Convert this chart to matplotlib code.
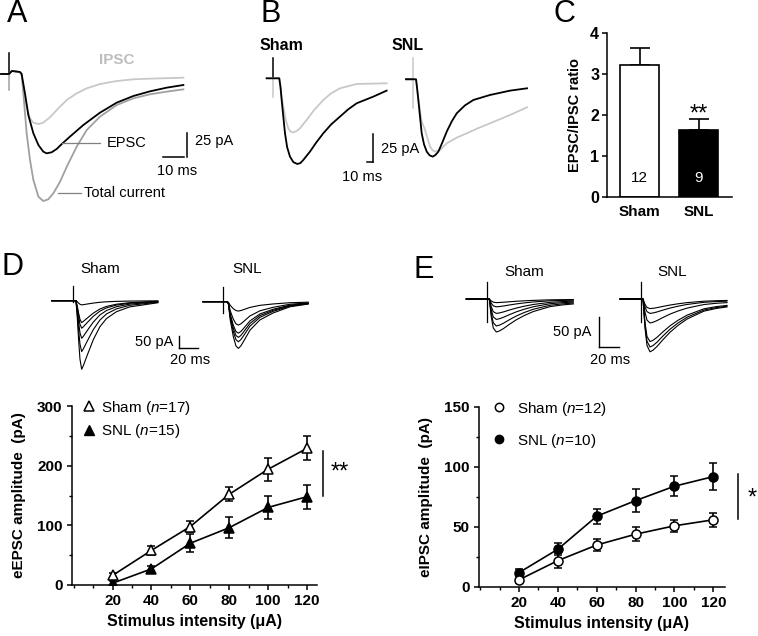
import numpy as np
import matplotlib
matplotlib.use("Agg")
import matplotlib.pyplot as plt
from matplotlib.lines import Line2D
from matplotlib.ticker import MultipleLocator

W, H = 758, 636

plt.rcParams["font.family"] = ["Liberation Sans", "DejaVu Sans"]
plt.rcParams["mathtext.fontset"] = "custom"
plt.rcParams["mathtext.rm"] = "Liberation Sans"
plt.rcParams["mathtext.it"] = "Liberation Sans:italic"
plt.rcParams["mathtext.bf"] = "Liberation Sans:bold"

# ---- A: example traces (ms, pA) ----
a_ipsc_t = [-3.8, 0, 1.4, 5.2, 6.0, 7.1, 8.4, 10.0, 11.6, 14.0, 16.3, 19.5, 23.5, 27.5, 32.2,
            37.0, 43.3, 51.3, 59.2, 67.1, 83.0]
a_ipsc_i = [0, 0, 3.2, 2.1, 0, -16.9, -34.5, -46.8, -51.3, -52.8, -51.3, -45.7, -36.2, -27.4, -20.4,
            -15.1, -10.6, -7.4, -5.6, -4.9, -3.9]
a_epsc_t = [-3.8, 0, 1.4, 5.2, 6.0, 7.6, 9.2, 11.6, 14.0, 16.3, 17.9, 20.3, 22.7, 25.1, 29.0,
            35.4, 43.3, 51.3, 59.2, 67.1, 75.1, 83.0]
a_epsc_i = [0, 0, 3.2, 2.1, 0, -20.4, -43.3, -62.6, -74.9, -81.9, -83.7, -82.6, -79.1, -73.9, -66.1,
            -53.8, -40.8, -30.2, -23.2, -18.3, -14.4, -11.6]
a_total_t = [-3.8, 0, 1.4, 5.2, 6.0, 7.1, 8.4, 10.0, 11.6, 14.0, 16.3, 18.7, 21.1, 24.3, 27.5,
             32.2, 37.0, 43.3, 51.3, 59.2, 67.1, 75.1, 83.0]
a_total_i = [0, 0, 3.2, 2.1, 0, -27.4, -62.6, -90.7, -111.8, -129.4, -134.0, -132.2, -125.9, -113.6, -97.8,
             -76.7, -59.1, -45.0, -32.7, -25.7, -21.4, -18.6, -16.2]

# ---- B: sham / SNL traces (ms, pA) ----
b_sham_ipsc_t = [-10.6, 0, 9.5, 12.5, 15.9, 20, 23.9, 27.5, 31.8, 37, 42.4, 53, 65, 79.5, 92, 106, 132.5, 180.2]
b_sham_ipsc_i = [0, 0, 0, -14, -25.5, -38, -45, -48, -48.6, -47.5, -45, -37.5, -28.5, -19.5, -13.5, -9, -5.1, -4.5]
b_sham_epsc_t = [-10.6, 0, 9.5, 11.5, 13.3, 16, 18.6, 22, 26.5, 32, 38.2, 43, 47.7, 58.3, 68, 79.5, 92,
                 106, 119, 132.5, 159, 180.2]
b_sham_epsc_i = [0, 0, 0, -8, -19.5, -35, -49.5, -62, -70.5, -75.5, -77.1, -76.3, -73.5, -66, -58, -49.5, -41.5,
                 -34.5, -28, -22.5, -16.5, -11.1]
b_snl_epsc_t = [-10.6, 0, 5.3, 7, 9.0, 11.5, 14.3, 18, 22.3, 27, 31.8, 36, 40.8, 47, 54.1, 62, 70,
                83, 96.5, 123, 154.8, 181.8]
b_snl_epsc_i = [0, 0, 0, -8, -18.6, -33, -48.6, -58.5, -65.1, -68.5, -69.6, -68.2, -65.1, -57, -47.1, -38, -30.6,
                -23.5, -18.6, -14.1, -10.2, -8.1]
b_snl_ipsc_t = [-10.6, 0, 5.3, 9.0, 14.3, 19.6, 23.5, 27.6, 31.5, 35.5, 43.5, 54.1, 70, 85.9, 104, 123, 154.8, 181.8]
b_snl_ipsc_i = [0, 0, 0, -18.6, -38.1, -45.6, -53, -60.6, -63.8, -65.1, -63.6, -57.6, -52.5, -48.6, -44, -39.6,
                -32.1, -25.2]

# ---- C: EPSC/IPSC ratio ----
groups = ["Sham", "SNL"]
ratio = [3.21, 1.63]
ratio_err = [0.41, 0.26]
ratio_n = ["12", "9"]

# ---- D / E: example trace families ----
d_sham_t = [-22.7, 0, 2.8, 4.2, 5.5, 7, 8.8, 10.5, 14, 21, 28, 35, 45.5, 59.5, 89]
d_sham_shape = [0, 0, 0, 0.25, 0.55, 0.85, 1.0, 0.95, 0.82, 0.57, 0.38, 0.26, 0.16, 0.09, 0.03]
d_sham_amps = [17, 89, 112, 153, 207, 279]
d_snl_t = [-20.7, 0, 4.5, 6, 8, 11.2, 14, 16.5, 19, 21.7, 28.7, 39.2, 53.2, 70.7, 90]
d_snl_shape = [0, 0, 0, 0.05, 0.4, 0.75, 0.95, 1.0, 0.95, 0.86, 0.61, 0.39, 0.24, 0.11, 0.05]
d_snl_amps = [38, 95, 128, 145, 163, 190]
e_t = [-21, 0, 2, 4, 6, 9, 12, 16, 22, 29, 37, 46, 55, 63, 75, 86]
e_shape = [0, 0, 0, 0.55, 0.88, 1.0, 0.97, 0.9, 0.77, 0.63, 0.5, 0.38, 0.3, 0.23, 0.18, 0.15]
e_sham_amps = [6, 13, 24, 34, 45, 55]
e_snl_amps = [16, 24, 40, 71, 80, 88]

# ---- D / E: input-output curves ----
stim = [20, 40, 60, 80, 100, 120]
epsc_sham = [16, 58, 98, 152, 194, 229]
epsc_sham_err = [4, 8, 9, 12, 19, 20]
epsc_snl = [3, 27, 70, 96, 130, 148]
epsc_snl_err = [4, 5, 15, 18, 20, 20]
ipsc_sham = [6, 22, 35, 44, 51, 56]
ipsc_sham_err = [3, 6.5, 4.6, 5.8, 5, 5.8]
ipsc_snl = [12, 31.5, 59, 72, 84, 92]
ipsc_snl_err = [3, 5, 6.4, 9.9, 8.3, 11]

fig = plt.figure(figsize=(W / 100, H / 100), dpi=100)


def px_axes(left, top, right, bottom):
    return fig.add_axes([left / W, 1 - bottom / H, (right - left) / W, (bottom - top) / H])


def trace_axes(left, top, right, bottom, t0, base, ms_px, pa_px):
    ax = px_axes(left, top, right, bottom)
    ax.set_xlim((left - t0) * ms_px, (right - t0) * ms_px)
    ax.set_ylim(-(bottom - base) * pa_px, -(top - base) * pa_px)
    ax.axis("off")
    return ax


def ftext(x, y, s, **kw):
    fig.text(x / W, 1 - y / H, s, **kw)


LIGHT = "#c8c8c8"
MID = "#a0a0a0"

# panel letters
for x, y, s in [(16.7, 14.5, "A"), (270.5, 13.5, "B"), (564, 13.5, "C"), (13, 267, "D"), (424, 270, "E")]:
    ftext(x, y, s, fontsize=22, ha="center", va="center")

# ---------------- A ----------------
ax = trace_axes(0, 40, 250, 215, 9, 74, 0.476, 1.055)
ax.plot([0, 0], [22, 0], color="black", lw=1.1)
ax.plot([0, 0], [0, -17], color=MID, lw=1.1)
ax.plot(a_ipsc_t, a_ipsc_i, color=LIGHT, lw=1.3)
ax.plot(a_total_t, a_total_i, color=MID, lw=1.3)
ax.plot(a_epsc_t, a_epsc_i, color="black", lw=1.3)
ax.text(51.4, 14.8, "IPSC", color="#bdbdbd", fontsize=11, fontweight="bold", ha="center", va="center")
ax.plot([25.2, 43.3], [-72.8, -72.8], color="#808080", lw=0.9)
ax.text(46.6, -72.8, "EPSC", fontsize=10.5, ha="left", va="center")
ax.plot([23.3, 34.3], [-125.5, -125.5], color="#808080", lw=0.9)
ax.text(35.7, -125.5, "Total current", fontsize=10.5, ha="left", va="center")
ax.plot([73.4, 83.4], [-87.2, -87.2], color="black", lw=1.1)
ax.plot([84.9, 84.9], [-62.2, -87.2], color="black", lw=1.1)
ax.text(88.5, -70.7, "25 pA", fontsize=10.5, ha="left", va="center")
ax.text(80, -102, "10 ms", fontsize=10.5, ha="center", va="center")

# ---------------- B ----------------
ftext(281, 45, "Sham", fontsize=11.5, fontweight="bold", ha="center", va="center")
ftext(407.7, 45, "SNL", fontsize=11.5, fontweight="bold", ha="center", va="center")
ax = trace_axes(255, 30, 400, 200, 273.3, 78.3, 1.59, 0.9)
ax.plot([0, 0], [18.3, 0], color="black", lw=1.1)
ax.plot([0, 0], [0, -16.6], color=LIGHT, lw=1.1)
ax.plot(b_sham_ipsc_t, b_sham_ipsc_i, color=LIGHT, lw=1.3)
ax.plot(b_sham_epsc_t, b_sham_epsc_i, color="black", lw=1.3)
ax.plot([148.5, 158], [-75.1, -75.1], color="black", lw=1.1)
ax.plot([158, 158], [-50.1, -75.1], color="black", lw=1.1)
ax.text(171.2, -63.6, "25 pA", fontsize=10.5, ha="left", va="center")
ax.text(141, -88.8, "10 ms", fontsize=10.5, ha="center", va="center")
ax = trace_axes(395, 30, 540, 200, 412.7, 79.3, 1.59, 0.9)
ax.plot([0, 0], [18.9, -26.1], color=LIGHT, lw=1.1)
ax.plot([-10.6, 0], [0, 0], color="black", lw=1.1)
ax.plot(b_snl_ipsc_t, b_snl_ipsc_i, color=LIGHT, lw=1.3)
ax.plot(b_snl_epsc_t, b_snl_epsc_i, color="black", lw=1.3)

# ---------------- C ----------------
ax = px_axes(607, 32.7, 731.7, 196.7)
ax.bar([0, 1], ratio, width=0.666, color=["white", "black"], edgecolor="black", lw=1.2, zorder=2)
ax.errorbar([0, 1], ratio, yerr=[[0, 0], ratio_err], fmt="none", ecolor="black",
            elinewidth=1.2, capsize=7, capthick=1.2, zorder=1)
ax.text(0, 0.456, ratio_n[0], ha="center", va="center", fontsize=11, color="black")
ax.text(1, 0.456, ratio_n[1], ha="center", va="center", fontsize=11, color="white")
ax.text(1, ratio[1] + ratio_err[1] + 0.12, "**", ha="center", va="center", fontsize=17)
ax.set_xlim(-0.554, 1.56)
ax.set_ylim(0, 4)
ax.set_yticks([0, 1, 2, 3, 4])
ax.set_xticks([0, 1])
ax.set_xticklabels(groups, fontweight="bold", fontsize=11)
ax.tick_params(axis="x", length=0, pad=6)
ax.tick_params(axis="y", length=3.6, width=1.1, pad=2, labelsize=11.5)
for lab in ax.get_yticklabels():
    lab.set_fontweight("bold")
ax.spines[["top", "right"]].set_visible(False)
ax.spines[["left", "bottom"]].set_linewidth(1.1)
ax.set_ylabel("EPSC/IPSC ratio", fontweight="bold", fontsize=10.5, labelpad=6)

# ---------------- D traces ----------------
ftext(100.7, 269, "Sham", fontsize=11, ha="center", va="center")
ftext(247, 269, "SNL", fontsize=11, ha="center", va="center")
ax = trace_axes(40, 280, 330, 380, 73.3, 300.7, 1.053, 4.07)
ax.plot([0, 0], [59, -5], color="black", lw=0.9)
for amp in d_sham_amps:
    ax.plot(d_sham_t, -amp * np.array(d_sham_shape), color="black", lw=0.8)
ax.plot([111.6, 111.6], [-143.7, -193.7], color="black", lw=1.0)
ax.plot([111.6, 131.6], [-193.7, -193.7], color="black", lw=1.0)
ax.text(105.3, -166.9, "50 pA", fontsize=10.5, ha="right", va="center")
ax.text(122.9, -241, "20 ms", fontsize=10.5, ha="center", va="center")
ax = trace_axes(195, 280, 330, 380, 222.7, 301.7, 1.053, 4.07)
ax.plot([0, 0], [61, -46], color="black", lw=0.9)
for amp in d_snl_amps:
    ax.plot(d_snl_t, -amp * np.array(d_snl_shape), color="black", lw=0.8)

# ---------------- E traces ----------------
ftext(523.8, 271.7, "Sham", fontsize=11, ha="center", va="center")
ftext(672, 271.7, "SNL", fontsize=11, ha="center", va="center")
ax = trace_axes(450, 270, 640, 380, 487.3, 299, 1.0, 1.667)
ax.plot([0, 0], [28.8, -38.2], color="black", lw=0.9)
for amp in e_sham_amps:
    ax.plot(e_t, -amp * np.array(e_shape), color="black", lw=0.8)
ax.plot([112, 112], [-29.5, -79.5], color="black", lw=1.0)
ax.plot([112, 132], [-79.5, -79.5], color="black", lw=1.0)
ax.text(104.4, -54.5, "50 pA", fontsize=10.5, ha="right", va="center")
ax.text(122.7, -101.7, "20 ms", fontsize=10.5, ha="center", va="center")
ax = trace_axes(610, 270, 740, 380, 641, 299, 1.0, 1.667)
ax.plot([0, 0], [28.8, -38.2], color="black", lw=0.9)
for amp in e_snl_amps:
    ax.plot(e_t, -amp * np.array(e_shape), color="black", lw=0.8)


# ---------------- D / E curves ----------------
def io_axes(ax, ymax, ymajor, ylabel):
    ax.set_ylim(0, ymax)
    ax.set_xticks(stim)
    ax.xaxis.set_minor_locator(MultipleLocator(10))
    ax.yaxis.set_major_locator(MultipleLocator(ymajor))
    ax.yaxis.set_minor_locator(MultipleLocator(ymajor / 2))
    ax.tick_params(which="major", length=3.6, width=1.1, labelsize=11, pad=3)
    ax.tick_params(which="minor", length=2.2, width=1.0)
    for lab in ax.get_xticklabels() + ax.get_yticklabels():
        lab.set_fontweight("bold")
    ax.spines[["top", "right"]].set_visible(False)
    ax.spines[["left", "bottom"]].set_linewidth(1.1)
    ax.set_ylabel(ylabel, fontweight="bold", fontsize=11, labelpad=8)
    ax.set_xlabel("Stimulus intensity (\u03bcA)", fontweight="bold", fontsize=11.5, labelpad=4)


eb = dict(color="black", lw=1.2, elinewidth=1.2, capsize=3.2, capthick=1.2, ms=6.5, mec="black", mew=1.1)

ax = px_axes(71.7, 406, 316.7, 585)
ax.set_xlim(-1, 125)
ax.errorbar(stim, epsc_snl, yerr=epsc_snl_err, marker="^", mfc="black", zorder=2, **eb)
ax.errorbar(stim, epsc_sham, yerr=epsc_sham_err, marker="^", mfc="white", zorder=3, **eb)
io_axes(ax, 300, 100, "eEPSC amplitude  (pA)")
ax.plot([128.4, 128.4], [149, 225], color="black", lw=1.1, clip_on=False)
ax.text(137, 188, "**", fontsize=17, ha="center", va="center")
handles = [Line2D([], [], ls="none", marker="^", ms=6.5, mfc="white", mec="black", mew=1.1),
           Line2D([], [], ls="none", marker="^", ms=6.5, mfc="black", mec="black")]
ax.legend(handles, ["Sham ($\\mathit{n}$=17)", "SNL ($\\mathit{n}$=15)"], loc="upper left",
          bbox_to_anchor=(0.045, 1.04), frameon=False, fontsize=11, handlelength=0.8,
          handletextpad=0.4, labelspacing=0.35, borderpad=0, borderaxespad=0)

ax = px_axes(479, 407, 725, 587)
ax.set_xlim(-0.6, 126)
ax.errorbar(stim, ipsc_sham, yerr=ipsc_sham_err, marker="o", mfc="white", zorder=3, **eb)
ax.errorbar(stim, ipsc_snl, yerr=ipsc_snl_err, marker="o", mfc="black", zorder=2, **eb)
io_axes(ax, 150, 50, "eIPSC amplitude  (pA)")
ax.plot([132.7, 132.7], [56.4, 94.2], color="black", lw=1.1, clip_on=False)
ax.text(140, 74, "*", fontsize=17, ha="center", va="center")
handles = [Line2D([], [], ls="none", marker="o", ms=6, mfc="white", mec="black", mew=1.1),
           Line2D([], [], ls="none", marker="o", ms=6, mfc="black", mec="black")]
ax.legend(handles, ["Sham ($\\mathit{n}$=12)", "SNL ($\\mathit{n}$=10)"], loc="upper left",
          bbox_to_anchor=(0.055, 1.04), frameon=False, fontsize=11, handlelength=0.8,
          handletextpad=0.8, labelspacing=0.9, borderpad=0, borderaxespad=0)

fig.savefig("out.png", dpi=100)
